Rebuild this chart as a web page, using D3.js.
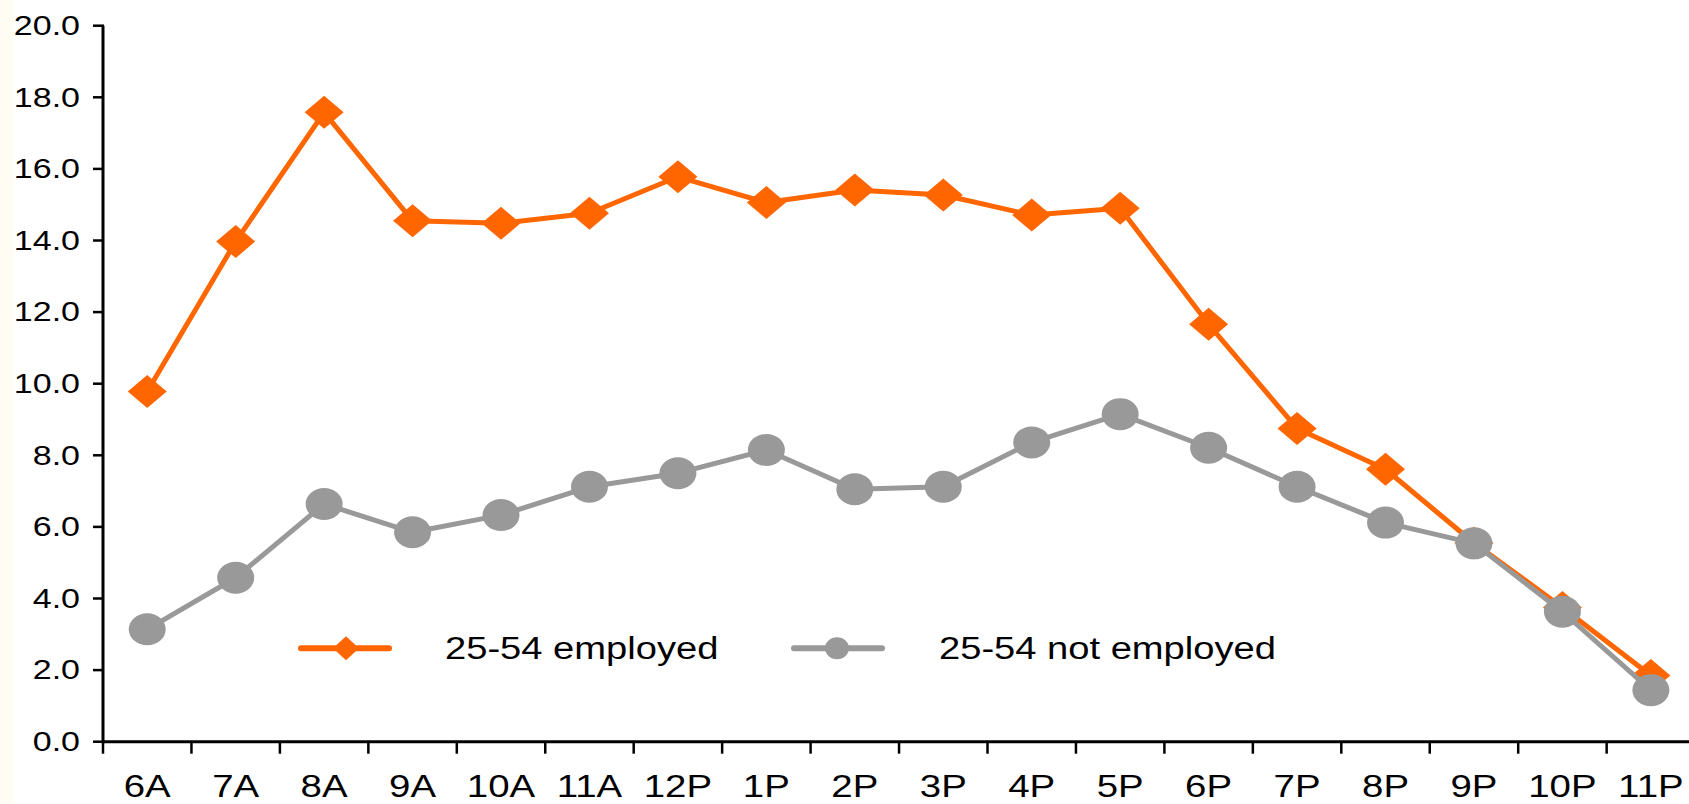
<!DOCTYPE html>
<html>
<head>
<meta charset="utf-8">
<script src="https://cdn.jsdelivr.net/npm/d3@7"></script>
<style>
html,body{margin:0;padding:0;background:#fff;overflow:hidden;}
svg{display:block;}
text{font-family:"Liberation Sans",Arial,sans-serif;fill:#000;}
</style>
</head>
<body>
<svg id="chart" width="1689" height="804"></svg>
<script>
const categories = ["6A","7A","8A","9A","10A","11A","12P","1P","2P","3P","4P","5P","6P","7P","8P","9P","10P","11P"];
const employed = [9.78,13.97,17.58,14.55,14.48,14.76,15.78,15.06,15.41,15.27,14.71,14.90,11.66,8.75,7.61,5.55,3.75,1.85];
const notEmployed = [3.14,4.58,6.64,5.85,6.33,7.12,7.50,8.15,7.05,7.12,8.36,9.15,8.21,7.12,6.12,5.54,3.63,1.44];
const yTicks = [0,2,4,6,8,10,12,14,16,18,20];
const seriesNames = ["25-54 employed","25-54 not employed"];

const ORANGE = "#FF6600", GRAY = "#999999";
const SX = 1.26; // horizontal stretch of text
const svg = d3.select("#chart");

svg.append("rect").attr("x",0).attr("y",0).attr("width",14).attr("height",804).attr("fill","#fffdf3");

const x = d3.scaleBand().domain(categories).range([103, 103 + 18*88.45]).paddingInner(0).paddingOuter(0);
const y = d3.scaleLinear().domain([0,20]).range([741.7, 25.7]);
const cx = d => x(d) + x.bandwidth()/2;

// axes
const axisG = svg.append("g");
axisG.append("line").attr("x1",103).attr("x2",103).attr("y1",y(20)).attr("y2",y(0)+1.5)
  .attr("stroke","#000").attr("stroke-width",3);
axisG.append("line").attr("x1",103).attr("x2",1700).attr("y1",y(0)).attr("y2",y(0))
  .attr("stroke","#000").attr("stroke-width",3);
yTicks.forEach(t=>{
  axisG.append("line").attr("x1",93).attr("x2",104).attr("y1",y(t)).attr("y2",y(t))
    .attr("stroke","#000").attr("stroke-width",2.5);
  axisG.append("text").attr("transform",`translate(80,${y(t)+9.3}) scale(${SX},1)`)
    .attr("text-anchor","end").attr("font-size",27).text(d3.format(".1f")(t));
});
categories.forEach(c=>{
  axisG.append("line").attr("x1",x(c)).attr("x2",x(c)).attr("y1",y(0)).attr("y2",y(0)+12)
    .attr("stroke","#000").attr("stroke-width",2.5);
  axisG.append("text").attr("transform",`translate(${cx(c)},797) scale(${SX},1)`)
    .attr("text-anchor","middle").attr("font-size",30.5).text(c);
});

const line = d3.line().x((d,i)=>cx(categories[i])).y(d=>y(d));
const diamond = (w,h)=>`M0,${-h/2}L${w/2},0L0,${h/2}L${-w/2},0Z`;

// employed series
svg.append("path").datum(employed).attr("d",line).attr("fill","none")
  .attr("stroke",ORANGE).attr("stroke-width",5).attr("stroke-linejoin","round");
svg.append("g").selectAll("path").data(employed).join("path")
  .attr("transform",(d,i)=>`translate(${cx(categories[i])},${y(d)})`)
  .attr("d",diamond(39,33)).attr("fill",ORANGE);

// not employed series
svg.append("path").datum(notEmployed).attr("d",line).attr("fill","none")
  .attr("stroke",GRAY).attr("stroke-width",5).attr("stroke-linejoin","round");
svg.append("g").selectAll("ellipse").data(notEmployed).join("ellipse")
  .attr("cx",(d,i)=>cx(categories[i])).attr("cy",d=>y(d))
  .attr("rx",18.5).attr("ry",16).attr("fill",GRAY);

// legend
const leg = svg.append("g");
const ly = 648.3;
leg.append("line").attr("x1",301).attr("x2",389).attr("y1",ly).attr("y2",ly)
  .attr("stroke",ORANGE).attr("stroke-width",6).attr("stroke-linecap","round");
leg.append("path").attr("transform",`translate(346,${ly})`).attr("d",diamond(26,24)).attr("fill",ORANGE);
leg.append("text").attr("transform",`translate(445,${ly+11}) scale(${SX-0.03},1)`)
  .attr("font-size",31).text(seriesNames[0]);

leg.append("line").attr("x1",794).attr("x2",882).attr("y1",ly).attr("y2",ly)
  .attr("stroke",GRAY).attr("stroke-width",6).attr("stroke-linecap","round");
leg.append("ellipse").attr("cx",837).attr("cy",ly).attr("rx",12).attr("ry",11).attr("fill",GRAY);
leg.append("text").attr("transform",`translate(939,${ly+11}) scale(${SX-0.03},1)`)
  .attr("font-size",31).text(seriesNames[1]);
</script>
</body>
</html>
